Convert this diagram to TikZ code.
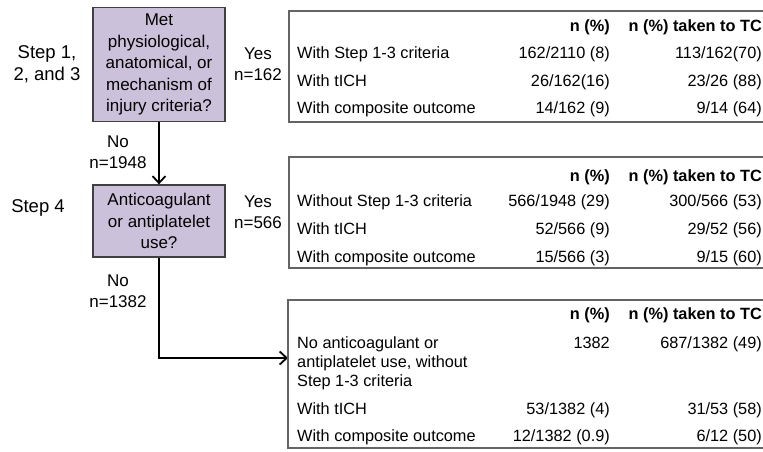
\documentclass[tikz,border=0pt]{standalone}
\usepackage{fontspec}
\setmainfont{Liberation Sans}
\usetikzlibrary{arrows.meta,positioning}
\definecolor{boxfill}{RGB}{204,193,218}
\definecolor{boxline}{RGB}{64,64,64}
\definecolor{tabline}{RGB}{100,100,100}

\tikzset{
  question/.style={draw=boxline,line width=1.3pt,fill=boxfill,minimum width=132pt,
    align=center,inner sep=0pt,font=\fontsize{17}{21.5}\selectfont},
  side/.style={align=center,inner sep=0pt,font=\fontsize{17}{21}\selectfont},
  steplab/.style={align=center,inner sep=0pt,font=\fontsize{18.5}{22}\selectfont},
  cell/.style={inner sep=0pt,font=\fontsize{16.3}{19}\selectfont},
  head/.style={inner sep=0pt,font=\fontsize{16.3}{19}\selectfont\bfseries},
  frame/.style={draw=tabline,line width=1.2pt},
  flow/.style={line width=1.8pt,-{Straight Barb[length=7pt,width=13pt]}},
}

\begin{document}
\begin{tikzpicture}[x=1pt,y=-1pt]
            \useasboundingbox (0,0) rectangle (763,451);

            \node[question,minimum height=114pt] (q1) at (159,64.5) {Met\\physiological,\\anatomical, or\\mechanism of\\injury criteria?};
            \node[question,minimum height=72pt] (q2) at (159,221) {Anticoagulant\\or antiplatelet\\use?};

            \node[steplab] (s1) at (47,64) {Step 1,\\2, and 3};
            \node[steplab] (s4) at (38,208) {Step 4};

            \node[side] (yes1) at (258,64) {Yes\\n=162};
            \node[side] (yes2) at (258,212) {Yes\\n=566};
            \node[side] (no1) at (118,152) {No\\n=1948};
            \node[side] (no2) at (118,291) {No\\n=1382};

            \coordinate (t3in) at (288,358);
            \draw[flow] (q1) -- (q2);
            \draw[flow] (q2.south) |- (t3in);

            % tables
            \draw[frame] (763,11) -| (289,122) -- (763,122);
            \draw[frame] (763,157) -| (289,268) -- (763,268);
            \draw[frame] (763,300) -| (288,448) -- (763,448);

            \foreach \t/\y in {1/31,2/181,3/319}{
                \node[head,anchor=base east] (t\t h1) at (610,\y) {n (\%)};
                \node[head,anchor=base east] (t\t h2) at (762,\y) {n (\%) taken to TC};
            }

            \foreach \y/\lab/\na/\nb [count=\i] in {58/{With Step 1-3 criteria}/{162/2110 (8)}/{113/162(70)},
                                                   86/{With tICH}/{26/162(16)}/{23/26 (88)},
                                                   113/{With composite outcome}/{14/162 (9)}/{9/14 (64)}}{
                \node[cell,anchor=base west] (t1a\i) at (297,\y) {\lab};
                \node[cell,anchor=base east] (t1b\i) at (610,\y) {\na};
                \node[cell,anchor=base east] (t1c\i) at (762,\y) {\nb};
            }

            \foreach \y/\lab/\na/\nb [count=\i] in {206/{Without Step 1-3 criteria}/{566/1948 (29)}/{300/566 (53)},
                                                   234/{With tICH}/{52/566 (9)}/{29/52 (56)},
                                                   262/{With composite outcome}/{15/566 (3)}/{9/15 (60)}}{
                \node[cell,anchor=base west] (t2a\i) at (297,\y) {\lab};
                \node[cell,anchor=base east] (t2b\i) at (610,\y) {\na};
                \node[cell,anchor=base east] (t2c\i) at (762,\y) {\nb};
            }

            \node[cell,anchor=base west,align=left] (t3a1) at (297,386) {No anticoagulant or\\antiplatelet use, without\\Step 1-3 criteria};
            \node[cell,anchor=base east] (t3b1) at (610,348) {1382};
            \node[cell,anchor=base east] (t3c1) at (762,348) {687/1382 (49)};
            \foreach \y/\lab/\na/\nb [count=\i from 2] in {414/{With tICH}/{53/1382 (4)}/{31/53 (58)},
                                                          441/{With composite outcome}/{12/1382 (0.9)}/{6/12 (50)}}{
                \node[cell,anchor=base west] (t3a\i) at (297,\y) {\lab};
                \node[cell,anchor=base east] (t3b\i) at (610,\y) {\na};
                \node[cell,anchor=base east] (t3c\i) at (762,\y) {\nb};
            }
\end{tikzpicture}
\end{document}
